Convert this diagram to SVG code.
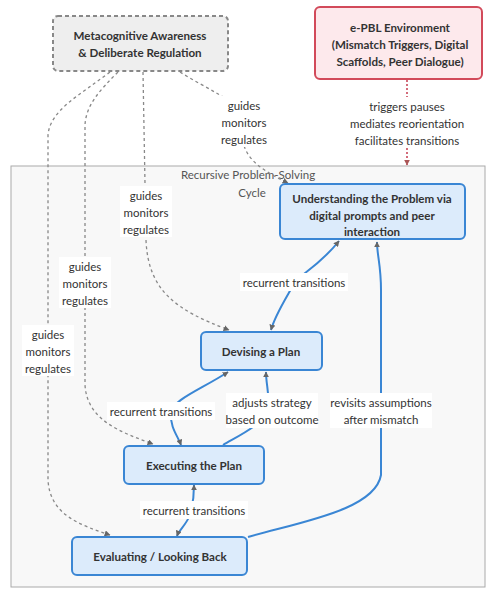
<svg xmlns="http://www.w3.org/2000/svg" width="486" height="591" viewBox="0 0 486 591">
<defs>
<marker id="ah" viewBox="0 0 10 10" refX="9" refY="5" markerWidth="6" markerHeight="6" orient="auto-start-reverse" markerUnits="userSpaceOnUse">
<path d="M0,0 L10,5 L0,10 z" fill="#666"/>
</marker>
<marker id="ahr" viewBox="0 0 10 10" refX="9" refY="5" markerWidth="6" markerHeight="6" orient="auto" markerUnits="userSpaceOnUse">
<path d="M0,0 L10,5 L0,10 z" fill="#a55"/>
</marker>
<style>
text{font-family:Lato,"Liberation Sans",sans-serif;fill:#333;text-anchor:middle;dominant-baseline:central}
.nt{font-size:11.6px;font-weight:bold}
.lt{font-size:11.5px}
.node{fill:#dcebfb;stroke:#3a86d4;stroke-width:2}
.dash{fill:none;stroke:#888;stroke-width:1.3;stroke-dasharray:3 3}
.blue{fill:none;stroke:#3a86d4;stroke-width:2}
.lbg{fill:#ffffff}
</style>
</defs>
<rect width="486" height="591" fill="#ffffff"/>
<g id="cluster">
<rect x="11" y="166" width="474" height="421" fill="#f8f8f8" stroke="#aaa" stroke-width="1"/>
<text x="248" y="174" class="lt" style="fill:#555">Recursive Problem-Solving</text>
<text x="252" y="192" class="lt" style="fill:#555">Cycle</text>
</g>
<g id="connectors">
<path class="dash" d="M180,72 C205,88 235,100 243,115 L243,140 C245,160 265,172 288,183" marker-end="url(#ah)"/>
<path class="dash" d="M143,72 L146,240 C148,290 175,310 229,330" marker-end="url(#ah)"/>
<path class="dash" d="M118,72 C100,90 86,105 85,125 L85,385 C87,420 120,432 153,444" marker-end="url(#ah)"/>
<path class="dash" d="M110,72 C80,95 50,110 48,135 L48,480 C50,515 80,525 110,535" marker-end="url(#ah)"/>
<path fill="none" stroke="#c9485a" stroke-width="1.6" stroke-dasharray="2 2" d="M407,80 L407,165" marker-end="url(#ahr)"/>
<path class="blue" d="M339,241 C320,265 300,275 295,282 C285,300 275,315 271,330" marker-start="url(#ah)" marker-end="url(#ah)"/>
<path class="blue" d="M228,372 C200,390 172,400 171,413 C170,428 178,436 181,445" marker-start="url(#ah)" marker-end="url(#ah)"/>
<path class="blue" d="M223,445 C240,435 262,425 268,410 C270,395 266,385 266,372" marker-end="url(#ah)"/>
<path class="blue" d="M194,485 C194,500 192,508 190,515 C186,525 179,530 177,536" marker-start="url(#ah)" marker-end="url(#ah)"/>
<path class="blue" d="M248,537 C300,522 375,510 381,475 L381,290 C381,265 377,255 377,242" marker-end="url(#ah)"/>
<g id="labels">
<rect class="lbg" x="218" y="96" width="52" height="51"/>
<text x="244" y="105" class="lt">guides</text>
<text x="244" y="122" class="lt">monitors</text>
<text x="244" y="139" class="lt">regulates</text>
<rect class="lbg" x="120" y="186" width="52" height="51"/>
<text x="146" y="195" class="lt">guides</text>
<text x="146" y="212" class="lt">monitors</text>
<text x="146" y="229" class="lt">regulates</text>
<rect class="lbg" x="59" y="257" width="52" height="51"/>
<text x="85" y="266" class="lt">guides</text>
<text x="85" y="283" class="lt">monitors</text>
<text x="85" y="300" class="lt">regulates</text>
<rect class="lbg" x="22" y="325" width="52" height="51"/>
<text x="48" y="334" class="lt">guides</text>
<text x="48" y="351" class="lt">monitors</text>
<text x="48" y="368" class="lt">regulates</text>
<rect class="lbg" x="344" y="97" width="126" height="51"/>
<text x="407" y="106" class="lt">triggers pauses</text>
<text x="407" y="123" class="lt">mediates reorientation</text>
<text x="407" y="140" class="lt">facilitates transitions</text>
<rect class="lbg" x="240" y="273" width="108" height="18"/>
<text x="294" y="282" class="lt">recurrent transitions</text>
<rect class="lbg" x="107" y="402" width="108" height="18"/>
<text x="161" y="411" class="lt">recurrent transitions</text>
<rect class="lbg" x="226" y="393" width="92" height="35"/>
<text x="272" y="402" class="lt">adjusts strategy</text>
<text x="272" y="419" class="lt">based on outcome</text>
<rect class="lbg" x="140" y="501" width="108" height="18"/>
<text x="194" y="510" class="lt">recurrent transitions</text>
<rect class="lbg" x="330" y="393" width="102" height="35"/>
<text x="381" y="402" class="lt">revisits assumptions</text>
<text x="381" y="419" class="lt">after mismatch</text>
</g>
</g>
<g id="meta">
<rect x="53" y="16" width="175" height="55" rx="5" fill="#eeeeee" stroke="#888" stroke-width="2" stroke-dasharray="4 3"/>
<text x="140" y="35" class="nt">Metacognitive Awareness</text>
<text x="140" y="52" class="nt">&amp; Deliberate Regulation</text>
</g>
<g id="epbl">
<rect x="315" y="7" width="167" height="72" rx="5" fill="#fde9ec" stroke="#d24a5a" stroke-width="2"/>
<text x="400" y="27" class="nt">e-PBL Environment</text>
<text x="400" y="44" class="nt">(Mismatch Triggers, Digital</text>
<text x="400" y="61" class="nt">Scaffolds, Peer Dialogue)</text>
</g>
<g id="understanding">
<rect x="280" y="184" width="185" height="55" rx="5" class="node"/>
<text x="372" y="198" class="nt">Understanding the Problem via</text>
<text x="372" y="215" class="nt">digital prompts and peer</text>
<text x="372" y="231" class="nt">interaction</text>
</g>
<g id="devising">
<rect x="201" y="332" width="121" height="38" rx="5" class="node"/>
<text x="261" y="351" class="nt">Devising a Plan</text>
</g>
<g id="executing">
<rect x="124" y="446" width="140" height="38" rx="5" class="node"/>
<text x="194" y="465" class="nt">Executing the Plan</text>
</g>
<g id="evaluating">
<rect x="72" y="537" width="175" height="38" rx="5" class="node"/>
<text x="160" y="556" class="nt">Evaluating / Looking Back</text>
</g>
</svg>
